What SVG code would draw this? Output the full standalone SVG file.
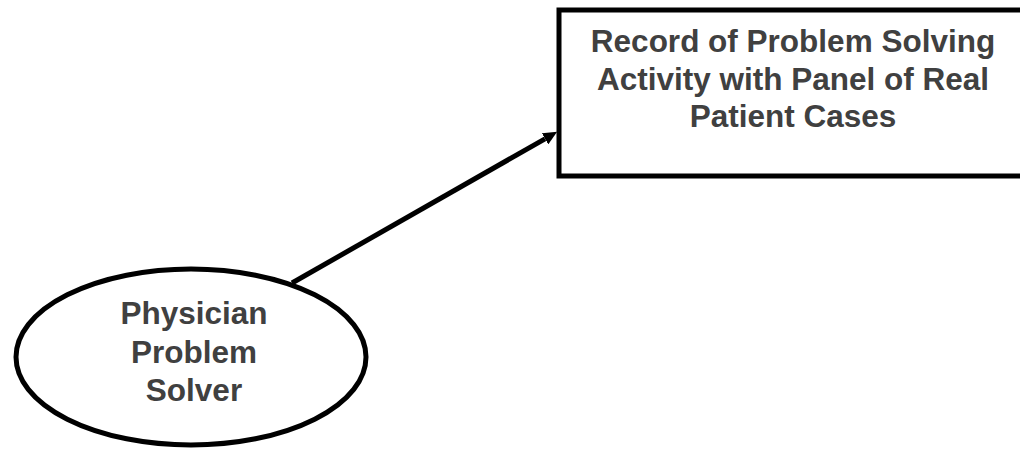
<svg xmlns="http://www.w3.org/2000/svg" width="1020" height="450" viewBox="0 0 1020 450">
<style>
.shape{fill:#fff;stroke:#000;stroke-width:5}
.lbl{font-family:"Liberation Sans",Arial,sans-serif;font-weight:bold;font-size:31.5px;fill:#404040;text-anchor:middle}
.conn{stroke:#000;stroke-width:5;fill:none}
</style>
<defs>
<marker id="ah" markerUnits="userSpaceOnUse" markerWidth="14" markerHeight="13" refX="0" refY="6.5" orient="auto">
<path d="M0,0 L14,6.5 L0,13 z" fill="#000"/>
</marker>
</defs>
<rect width="1020" height="450" fill="#fff"/>
<g id="record">
<rect class="shape" x="559" y="10" width="500" height="166"/>
<text class="lbl" x="793" y="52">Record of Problem Solving</text>
<text class="lbl" x="793" y="89.5">Activity with Panel of Real</text>
<text class="lbl" x="793" y="127">Patient Cases</text>
</g>
<g id="physician">
<ellipse class="shape" cx="191" cy="357" rx="175" ry="88"/>
<text class="lbl" x="194" y="324">Physician</text>
<text class="lbl" x="194" y="362.5">Problem</text>
<text class="lbl" x="194" y="401">Solver</text>
</g>
<g id="connectors">
<line class="conn" x1="292" y1="283" x2="545" y2="138.8" marker-end="url(#ah)"/>
</g>
</svg>
